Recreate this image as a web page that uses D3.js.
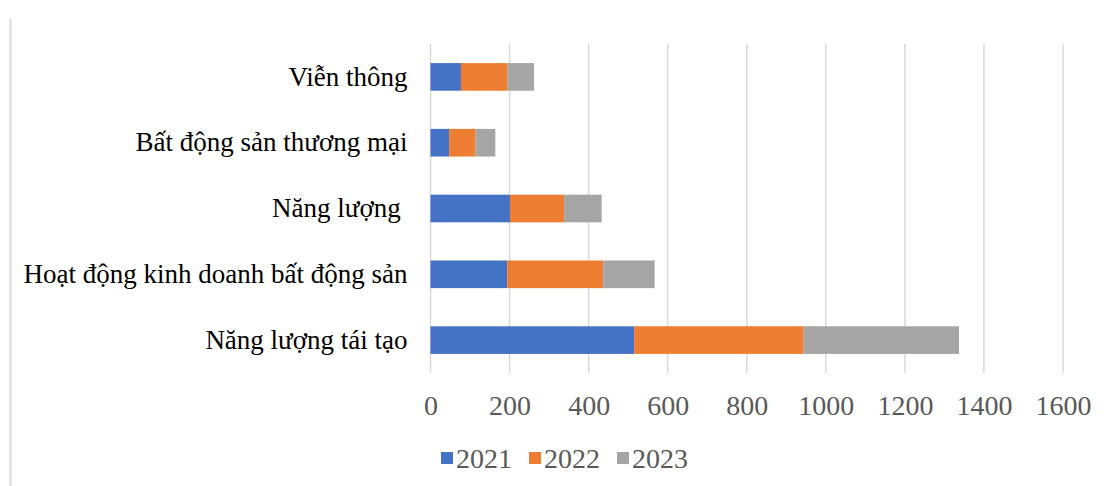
<!DOCTYPE html>
<html>
<head>
<meta charset="utf-8">
<script src="https://cdn.jsdelivr.net/npm/d3@7"></script>
<style>
  body { margin: 0; background: #fff; }
  text { font-family: "Liberation Serif", "Times New Roman", serif; }
</style>
</head>
<body>
<div id="chart"></div>
<script>
const categories = ["Viễn thông", "Bất động sản thương mại", "Năng lượng ", "Hoạt động kinh doanh bất động sản", "Năng lượng tái tạo"];
const years = ["2021", "2022", "2023"];
const values2021 = [77, 47, 201, 194, 515];
const values2022 = [118, 67, 137, 243, 429];
const values2023 = [67, 50, 95, 130, 393];
const xTicks = [0, 200, 400, 600, 800, 1000, 1200, 1400, 1600];
const colors = ["#4472C4", "#ED7D31", "#A5A5A5"];

const width = 1106;
const height = 486;
const margin = { top: 44, right: 43, bottom: 113, left: 430.5 };

const rows = categories.map((c, i) => ({
  category: c,
  "2021": values2021[i],
  "2022": values2022[i],
  "2023": values2023[i]
}));

const svg = d3.select("#chart")
  .append("svg")
  .attr("width", width)
  .attr("height", height);

// outer frame edge on the left
svg.append("line")
  .attr("x1", 10.5).attr("x2", 10.5)
  .attr("y1", 19).attr("y2", height)
  .attr("stroke", "#d9d9d9")
  .attr("stroke-width", 2);

const x = d3.scaleLinear()
  .domain([0, 1600])
  .range([margin.left, width - margin.right]);

const y = d3.scaleBand()
  .domain(categories)
  .range([margin.top, height - margin.bottom])
  .paddingInner(0.58)
  .paddingOuter(0.29);

// gridlines
svg.append("g")
  .selectAll("line")
  .data(xTicks)
  .enter().append("line")
  .attr("x1", d => x(d)).attr("x2", d => x(d))
  .attr("y1", margin.top).attr("y2", height - margin.bottom)
  .attr("stroke", "#d9d9d9")
  .attr("stroke-width", 1.5);

const stack = d3.stack().keys(years)(rows);

svg.append("g")
  .selectAll("g")
  .data(stack)
  .enter().append("g")
  .attr("fill", (d, i) => colors[i])
  .selectAll("rect")
  .data(d => d)
  .enter().append("rect")
  .attr("x", d => x(d[0]))
  .attr("y", d => y(d.data.category))
  .attr("width", d => x(d[1]) - x(d[0]))
  .attr("height", y.bandwidth());

// x axis labels
const xAxis = svg.append("g")
  .attr("transform", `translate(0,${height - margin.bottom})`)
  .call(d3.axisBottom(x).tickValues(xTicks).tickSize(0).tickPadding(22).tickFormat(d3.format("d")));
xAxis.select(".domain").remove();
xAxis.selectAll("text")
  .attr("fill", "#595959")
  .style("font-size", "28px")
  .style("font-family", "'Liberation Serif', serif");

// category labels
const yAxis = svg.append("g")
  .attr("transform", `translate(${margin.left - 23},0)`)
  .call(d3.axisLeft(y).tickSize(0).tickPadding(0));
yAxis.select(".domain").remove();
yAxis.selectAll("text")
  .attr("fill", "#000")
  .style("font-size", "27px")
  .style("white-space", "pre")
  .style("font-family", "'Liberation Serif', serif");

// legend
const legend = svg.append("g")
  .attr("transform", "translate(441,458)");

const legendItems = legend.selectAll("g")
  .data(years)
  .enter().append("g")
  .attr("transform", (d, i) => `translate(${i * 88},0)`);

legendItems.append("rect")
  .attr("x", 0)
  .attr("y", -6)
  .attr("width", 12)
  .attr("height", 12)
  .attr("fill", (d, i) => colors[i]);

legendItems.append("text")
  .attr("x", 15)
  .attr("dy", "0.35em")
  .attr("fill", "#595959")
  .style("font-size", "28px")
  .style("font-family", "'Liberation Serif', serif")
  .text(d => d);
</script>
</body>
</html>
